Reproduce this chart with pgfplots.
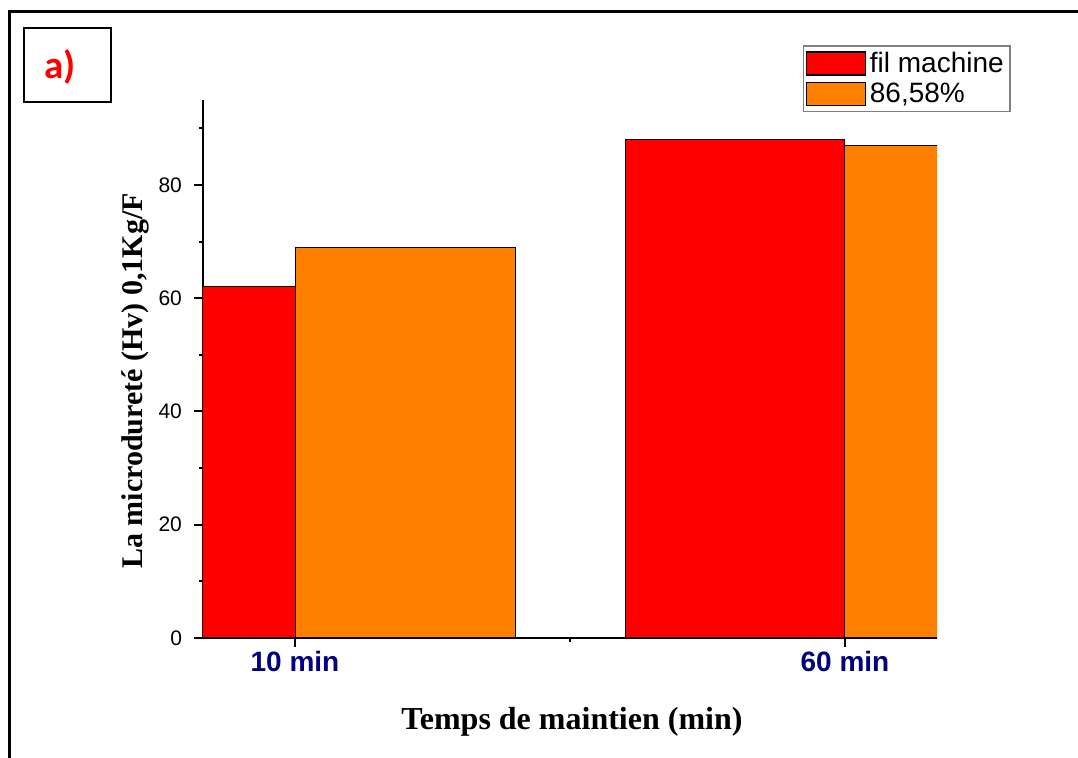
\documentclass[border=0pt]{standalone}
\usepackage{pgfplots}
\pgfplotsset{compat=1.18}
\usepackage{fontspec}
\setmainfont{Liberation Serif}
\setsansfont{Liberation Sans}
\newfontfamily\carlito{Carlito}
\definecolor{barred}{RGB}{255,0,0}
\definecolor{barorange}{RGB}{255,128,0}
\definecolor{ticknavy}{RGB}{0,0,128}
\begin{document}
\begin{tikzpicture}
\useasboundingbox (0pt,0pt) rectangle (539pt,-379pt);
% outer frame (top and left only)
\draw[line width=1.5pt] (4.75pt,-380pt) -- (4.75pt,-5.75pt) -- (540pt,-5.75pt);
% panel tag
\draw[line width=0.6pt] (12pt,-14pt) rectangle (55.5pt,-51pt);
\node[anchor=base, text=barred, font=\carlito\bfseries\fontsize{19.5}{22}\selectfont, inner sep=0pt] at (30pt,-39.5pt) {a)};
\begin{axis}[
  at={(101.5pt,-319pt)}, anchor=south west,
  scale only axis, width=367pt, height=269pt,
  xmin=-0.1673, xmax=1.1673, ymin=0, ymax=95,
  axis x line*=bottom, axis y line*=left,
  axis line style={-, line width=1pt},
  tick align=outside,
  major tick length=4.5pt, minor tick length=2pt,
  every tick/.style={line width=1pt, black},
  xtick={0,1}, xticklabels={10 min,60 min}, minor xtick={0.5},
  ytick={0,20,40,60,80}, minor ytick={10,30,50,70,90},
  /pgf/number format/assume math mode=true,
  yticklabel style={font=\sffamily\fontsize{10.5}{12}\selectfont, xshift=-2.5pt},
  xticklabel style={font=\sffamily\bfseries\fontsize{14}{16}\selectfont, text=ticknavy, yshift=1.5pt},
  xlabel={Temps de maintien (min)},
  ylabel={La microdureté (Hv) 0,1Kg/F},
  xlabel style={font=\bfseries\fontsize{16}{19}\selectfont, at={(axis description cs:0.5027,-0.1560)}, anchor=center},
  ylabel style={font=\bfseries\fontsize{15}{18}\selectfont, at={(axis description cs:-0.0920,0.4777)}, anchor=center, rotate=0},
  legend style={at={(0.8174,1.1022)}, anchor=north west, draw=gray, line width=0.75pt,
    font=\sffamily\fontsize{14}{16}\selectfont, inner xsep=1pt, inner ysep=1pt,
    row sep=0pt, nodes={inner sep=2pt}},
  legend cell align=left,
  legend image code/.code={\draw[#1,draw=black,line width=0.6pt] (0pt,-5.75pt) rectangle (29.5pt,5.75pt);},
]
\addplot[ybar, bar width=0.4, bar shift=-0.2, fill=barred, draw=black, line width=0.5pt]
  coordinates {(0,62) (1,88)};
\addlegendentry{fil machine}
\addplot[ybar, bar width=0.4, bar shift=0.2, fill=barorange, draw=black, line width=0.5pt]
  coordinates {(0,69) (1,87)};
\addlegendentry{86,58\%}
\end{axis}
\end{tikzpicture}
\end{document}
